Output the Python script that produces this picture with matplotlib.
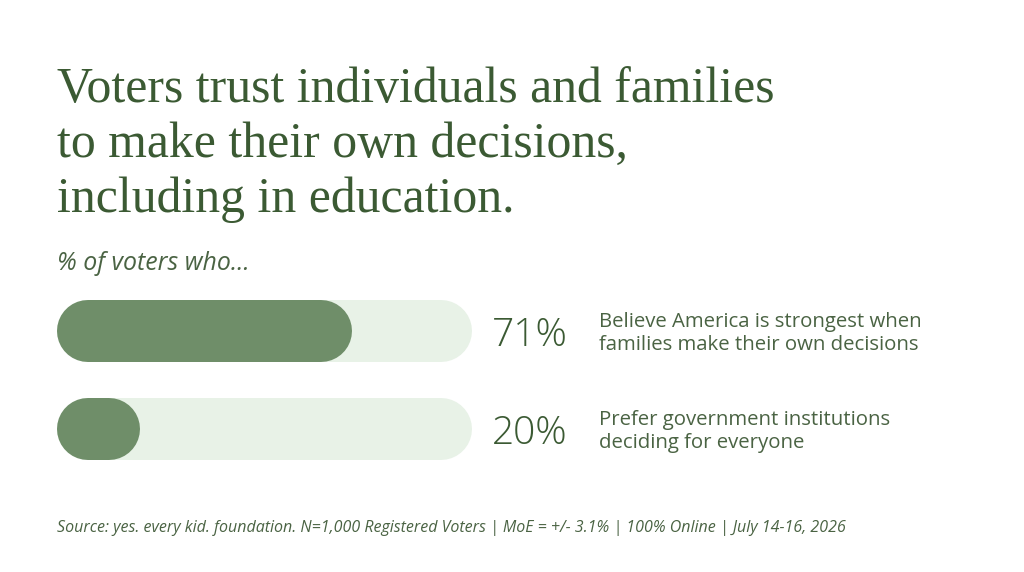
import matplotlib
matplotlib.use("Agg")
import matplotlib.pyplot as plt

# ---- data ----
title_lines = ["Voters trust individuals and families",
               "to make their own decisions,",
               "including in education."]
subtitle = "% of voters who..."
values = [71, 20]
value_labels = ["71%", "20%"]
descriptions = [["Believe America is strongest when", "families make their own decisions"],
                ["Prefer government institutions", "deciding for everyone"]]
source = ("Source: yes. every kid. foundation. N=1,000 Registered Voters | MoE = +/- 3.1% | "
          "100% Online | July 14-16, 2026")

# ---- style ----
W, H, DPI = 1024, 572, 100
TITLE_C = "#3b5a33"
TEXT_C = "#4a6343"
FILL_C = "#6f8e69"
TRACK_C = "#e8f2e7"

fig = plt.figure(figsize=(W / DPI, H / DPI), dpi=DPI)
fig.patch.set_facecolor("white")


def P(x, y):
    return x / W, 1 - y / H


def fit(t, target_px):
    fig.canvas.draw()
    r = fig.canvas.get_renderer()
    w = t.get_window_extent(renderer=r).width
    t.set_fontsize(t.get_fontsize() * target_px / w)


# title
tl = []
for i, line in enumerate(title_lines):
    t = fig.text(*P(57, 102 + 55 * i), line, family="Liberation Serif", fontsize=35,
                 color=TITLE_C, va="baseline", ha="left")
    tl.append(t)
fit(tl[0], 718)
for t in tl[1:]:
    t.set_fontsize(tl[0].get_fontsize())

# subtitle
st = fig.text(*P(57, 270), subtitle, family="Open Sans", style="italic", fontsize=16,
              color=TEXT_C, va="baseline", ha="left")
fit(st, 193)

# bars
x0, x1 = 57, 472
row_px = [331, 429]
bar_h = 62
top_px, bot_px = row_px[0] - bar_h / 2 - 1, row_px[1] + bar_h / 2 + 1
ax = fig.add_axes([x0 / W, 1 - bot_px / H, (x1 - x0) / W, (bot_px - top_px) / H])
ax.set_xlim(0, 100)
step = row_px[1] - row_px[0]
ax.set_ylim(1 + (bot_px - row_px[1]) / step, -(row_px[0] - top_px) / step)
ax.axis("off")
lw_pt = bar_h * 72 / DPI
r = (bar_h / 2) / (x1 - x0) * 100
for i, v in enumerate(values):
    ax.plot([r, 100 - r], [i, i], color=TRACK_C, lw=lw_pt, solid_capstyle="round")
    ax.plot([r, v - r], [i, i], color=FILL_C, lw=lw_pt, solid_capstyle="round")

# value labels and descriptions
for i, (lab, desc) in enumerate(zip(value_labels, descriptions)):
    vt = fig.text(*P(492, row_px[i] + 15), lab, family="Open Sans", fontweight="light",
                  fontsize=28, color=TITLE_C, va="baseline", ha="left")
    if i == 0:
        fit(vt, 76)
        vsize = vt.get_fontsize()
    else:
        vt.set_fontsize(vsize)
    base = [327, 425][i]
    for j, d in enumerate(desc):
        dt = fig.text(*P(599, base + 23 * j), d, family="Open Sans", fontsize=14,
                      color=TEXT_C, va="baseline", ha="left")
        if i == 0 and j == 0:
            fit(dt, 324)
            dsize = dt.get_fontsize()
        else:
            dt.set_fontsize(dsize)

# source
sc = fig.text(*P(57, 532), source, family="Open Sans", style="italic", fontsize=10,
              color=TEXT_C, va="baseline", ha="left")
fit(sc, 786)

fig.savefig("out.png", dpi=DPI, facecolor="white")
